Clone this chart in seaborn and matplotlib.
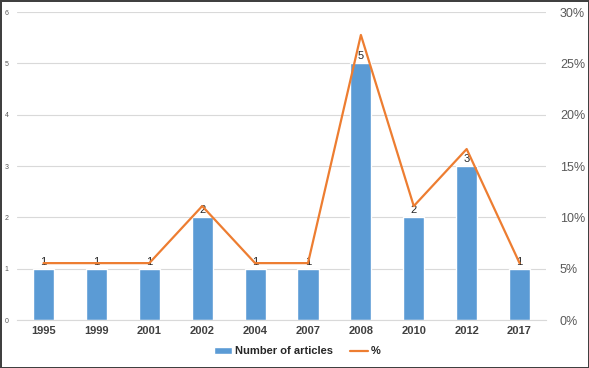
import numpy as np
import pandas as pd
import matplotlib.pyplot as plt
import seaborn as sns

years = ['1995', '1999', '2001', '2002', '2004', '2007', '2008', '2010', '2012', '2017']
articles = [1, 1, 1, 2, 1, 1, 5, 2, 3, 1]
pct = [a / sum(articles) for a in articles]

df = pd.DataFrame({'Year': years, 'Articles': articles, 'Pct': pct})

sns.set_style('white')
plt.rcParams['font.family'] = ['Liberation Sans', 'DejaVu Sans']

fig = plt.figure(figsize=(5.89, 3.68), dpi=100, edgecolor='#404040', linewidth=2)
ax = fig.add_axes([0.029, 0.130, 0.898, 0.837])
ax2 = ax.twinx()

sns.barplot(data=df, x='Year', y='Articles', color='#5B9BD5', width=0.4,
            saturation=1, ax=ax, label='Number of articles', zorder=2)
sns.lineplot(x=np.arange(len(years)), y=df['Pct'], color='#ED7D31', lw=1.6,
             ax=ax2, label='%', zorder=3)

ax.set_ylim(0, 6)
ax.set_xlim(-0.5, len(years) - 0.5)
ax.set_yticks(range(7))
ax.tick_params(axis='y', labelsize=5, colors='#595959', length=0, pad=6)
ax.tick_params(axis='x', labelsize=8, length=0, pad=4)
for t in ax.get_xticklabels():
    t.set_fontweight('bold')
    t.set_color('#404040')
ax.set_xticks(np.arange(-0.5, len(years), 1), minor=True)
ax.tick_params(axis='x', which='minor', length=4, color='#D9D9D9', width=1)
ax.grid(axis='y', color='#D9D9D9', lw=0.8, zorder=0)
ax.set_axisbelow(True)
ax.set_xlabel('')
ax.set_ylabel('')

ax2.set_ylim(0, 0.30)
ax2.set_yticks(np.arange(0, 0.31, 0.05))
ax2.set_yticklabels([f'{int(round(v * 100))}%' for v in np.arange(0, 0.31, 0.05)])
ax2.tick_params(axis='y', labelsize=9, colors='#595959', length=0, pad=10)
ax2.set_ylabel('')

for s in ['top', 'left', 'right']:
    ax.spines[s].set_visible(False)
    ax2.spines[s].set_visible(False)
ax.spines['bottom'].set_color('#D9D9D9')
ax2.spines['bottom'].set_visible(False)

for i, v in enumerate(articles):
    ax.text(i, v + 0.04, str(v), ha='center', va='bottom', fontsize=8, color='#262626', zorder=5)

h1, l1 = ax.get_legend_handles_labels()
h2, l2 = ax2.get_legend_handles_labels()
ax2.get_legend().remove()
if ax.get_legend():
    ax.get_legend().remove()
fig.legend(h1 + h2, l1 + l2, loc='center', bbox_to_anchor=(0.505, 0.045), ncol=2,
           frameon=False, handlelength=1.6, columnspacing=1.5, handletextpad=0.3,
           prop={'weight': 'bold', 'size': 8})

fig.savefig('out.png', dpi=100, edgecolor=fig.get_edgecolor())
